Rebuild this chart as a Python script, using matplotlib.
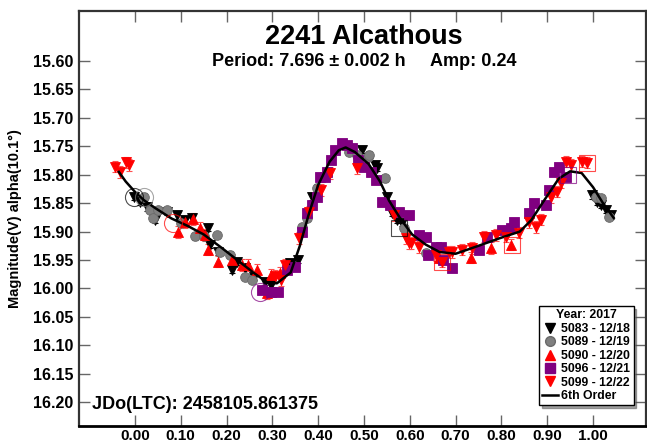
import numpy as np
import matplotlib
matplotlib.use("Agg")
import matplotlib.pyplot as plt
from matplotlib.lines import Line2D

plt.rcParams['font.family'] = ['Liberation Sans', 'DejaVu Sans']
plt.rcParams['font.weight'] = 'bold'

ph_5083 = [-0.002, 0.011, 0.026, 0.044, 0.070, 0.092, 0.109, 0.124, 0.146, 0.159, 0.163,
           0.181, 0.213, 0.222, 0.240, 0.261, 0.283, 0.298, 0.338, 0.355, 0.386, 0.495,
           0.523, 0.529, 0.551, 0.562, 0.573, 0.582, 0.998, 1.009, 1.017, 1.028, 1.039]
mag_5083 = [15.839, 15.848, 15.857, 15.879, 15.865, 15.871, 15.879, 15.876, 15.906, 15.893, 15.923,
            15.936, 15.967, 15.953, 15.964, 15.980, 15.988, 15.994, 15.955, 15.950, 15.839, 15.756,
            15.783, 15.788, 15.839, 15.867, 15.879, 15.885, 15.836, 15.848, 15.853, 15.862, 15.871]

ph_5089 = [0.020, 0.033, 0.039, 0.050, 0.070, 0.100, 0.131, 0.150, 0.179, 0.185, 0.207, 0.240,
           0.255, 0.364, 0.375, 0.397, 0.468, 0.484, 0.508, 0.512, 0.545, 0.588, 0.636, 1.006,
           1.017, 1.035]
mag_5089 = [15.839, 15.862, 15.876, 15.862, 15.862, 15.885, 15.908, 15.908, 15.906, 15.936, 15.941, 15.980,
            15.985, 15.892, 15.876, 15.823, 15.760, 15.765, 15.769, 15.765, 15.806, 15.893, 15.937, 15.839,
            15.841, 15.874]

ph_5090 = [0.094, 0.109, 0.126, 0.142, 0.153, 0.159, 0.181, 0.213, 0.233, 0.246, 0.266, 0.288,
           0.298, 0.316, 0.664, 0.734, 0.778, 0.821]
mag_5090 = [15.901, 15.883, 15.878, 15.893, 15.906, 15.932, 15.953, 15.950, 15.959, 15.959, 15.967, 16.008,
            15.976, 15.973, 15.946, 15.946, 15.929, 15.923]

ph_5096 = [0.277, 0.298, 0.312, 0.331, 0.349, 0.364, 0.375, 0.386, 0.397, 0.403, 0.414, 0.420,
           0.429, 0.436, 0.451, 0.462, 0.473, 0.486, 0.501, 0.516, 0.527, 0.540, 0.556, 0.577,
           0.599, 0.621, 0.636, 0.640, 0.658, 0.669, 0.672, 0.693, 0.752, 0.769, 0.802, 0.821,
           0.828, 0.861, 0.871, 0.898, 0.904, 0.915, 0.926, 0.941]
mag_5096 = [16.002, 16.006, 16.006, 15.967, 15.962, 15.900, 15.867, 15.853, 15.839, 15.804, 15.804, 15.795,
            15.774, 15.756, 15.744, 15.748, 15.753, 15.774, 15.786, 15.795, 15.809, 15.848, 15.853, 15.865,
            15.871, 15.906, 15.909, 15.942, 15.927, 15.927, 15.950, 15.964, 15.932, 15.909, 15.897, 15.893,
            15.883, 15.867, 15.850, 15.853, 15.827, 15.795, 15.786, 15.804]

ph_5099 = [-0.044, -0.033, -0.020, -0.013, 0.305, 0.318, 0.327, 0.359, 0.381, 0.407, 0.425, 0.484,
           0.566, 0.592, 0.599, 0.603, 0.621, 0.658, 0.671, 0.686, 0.691, 0.715, 0.736, 0.763,
           0.789, 0.810, 0.839, 0.861, 0.876, 0.887, 0.908, 0.922, 0.930, 0.941, 0.952, 0.976, 0.987]
mag_5099 = [15.786, 15.795, 15.778, 15.783, 15.978, 15.985, 15.959, 15.911, 15.865, 15.827, 15.797, 15.788,
            15.871, 15.911, 15.920, 15.920, 15.927, 15.941, 15.953, 15.936, 15.936, 15.932, 15.929, 15.909,
            15.906, 15.909, 15.902, 15.883, 15.892, 15.879, 15.839, 15.830, 15.814, 15.777, 15.783, 15.777, 15.779]

# typical error bar half-length per session
err = {5083: 0.006, 5089: 0.006, 5090: 0.010, 5096: 0.004, 5099: 0.010}

# 6th order Fourier fit
fit_ph = [-0.035, -0.02, 0.0, 0.02, 0.045, 0.08, 0.115, 0.15, 0.19, 0.225, 0.26, 0.29, 0.31,
          0.34, 0.36, 0.38, 0.40, 0.425, 0.445, 0.46, 0.48, 0.51, 0.535, 0.555, 0.58, 0.605,
          0.635, 0.665, 0.70, 0.75, 0.795, 0.84, 0.865, 0.895, 0.925, 0.95, 0.975, 1.0, 1.02, 1.045]
fit_mag = [15.795, 15.812, 15.830, 15.845, 15.859, 15.877, 15.890, 15.905, 15.929, 15.951, 15.973,
           15.990, 15.991, 15.972, 15.925, 15.868, 15.818, 15.777, 15.757, 15.752, 15.760, 15.781,
           15.812, 15.846, 15.878, 15.905, 15.923, 15.936, 15.939, 15.925, 15.912, 15.900, 15.880,
           15.843, 15.807, 15.794, 15.797, 15.822, 15.848, 15.876]

# flagged observations (circled / boxed)
circ_ph = [-0.002, 0.020, 0.083, 0.272]
circ_mag = [15.839, 15.839, 15.885, 16.006]
circ_sess = [5083, 5089, 5090, 5096]
box_ph = [0.577, 0.671, 0.824, 0.987, 0.945]
box_mag = [15.894, 15.953, 15.923, 15.779, 15.800]
box_sess = [5083, 5099, 5090, 5099, 5096]

sessions = [5083, 5089, 5090, 5096, 5099]
labels = ['5083 - 12/18', '5089 - 12/19', '5090 - 12/20', '5096 - 12/21', '5099 - 12/22']
data = {5083: (ph_5083, mag_5083), 5089: (ph_5089, mag_5089), 5090: (ph_5090, mag_5090),
        5096: (ph_5096, mag_5096), 5099: (ph_5099, mag_5099)}
style = {5083: dict(marker='v', color='black', mec='black', ecol='black', ms=7.5),
         5089: dict(marker='o', color='#808080', mec='#6a6a6a', ecol='#555555', ms=7),
         5090: dict(marker='^', color='#ff0000', mec='#ff0000', ecol='#ff5050', ms=7.5),
         5096: dict(marker='s', color='#800080', mec='#800080', ecol='#a040a0', ms=7.5),
         5099: dict(marker='v', color='#ff0000', mec='#ff0000', ecol='#ff5050', ms=7.5)}

fig = plt.figure(figsize=(6.47, 4.44), dpi=100)
ax = fig.add_axes([79/647, 18/444, 567/647, 415/444])

for s in sessions:
    x, y = data[s]
    st = style[s]
    ax.errorbar(x, y, yerr=err[s], fmt='none', ecolor=st['ecol'], elinewidth=0.8,
                capsize=2.5, capthick=0.8, zorder=2)
    ax.plot(x, y, linestyle='none', marker=st['marker'], color=st['color'],
            mec=st['mec'], mew=0.6, ms=st['ms'], zorder=3)

ax.plot(fit_ph, fit_mag, color='black', lw=1.8, zorder=4)

for x, y, s in zip(circ_ph, circ_mag, circ_sess):
    ax.plot(x, y, marker='o', ms=13, mfc='none', mec=style[s]['color'], mew=0.8, alpha=0.7, zorder=5)
for x, y, s in zip(box_ph, box_mag, box_sess):
    ax.plot(x, y, marker='s', ms=11, mfc='none', mec=style[s]['color'], mew=0.8, alpha=0.7, zorder=5)

ax.set_xlim(-0.122, 1.1155)
ax.set_ylim(16.242, 15.512)
ax.set_xticks(np.arange(0, 1.01, 0.1))
ax.set_yticks(np.arange(15.60, 16.201, 0.05))
ax.xaxis.set_major_formatter(plt.FormatStrFormatter('%.2f'))
ax.yaxis.set_major_formatter(plt.FormatStrFormatter('%.2f'))
ax.tick_params(direction='in', length=8, width=1, color='#666666', top=True, right=True,
               labelsize=11.5, pad=4)
ax.tick_params(axis='x', labelsize=11, pad=2)
for side in ['left', 'right', 'top']:
    ax.spines[side].set_linewidth(1.6)
    ax.spines[side].set_color('#333333')
ax.spines['bottom'].set_linewidth(2)
ax.spines['bottom'].set_color('black')

ax.set_ylabel('Magnitude(V) alpha(10.1°)', fontsize=10.5, fontweight='bold', labelpad=8)

fig.text(364/647, 1 - 37/444, '2241 Alcathous', ha='center', va='center',
         fontsize=19.5, fontweight='bold')
fig.text(364/647, 1 - 61/444, 'Period: 7.696 \u00b1 0.002 h     Amp: 0.24', ha='center',
         va='center', fontsize=13, fontweight='bold')
ax.text(0.023, 0.052, 'JDo(LTC): 2458105.861375', transform=ax.transAxes, ha='left',
        va='center', fontsize=13, fontweight='bold')

handles = []
for s in sessions:
    st = style[s]
    handles.append(Line2D([], [], linestyle='none', marker=st['marker'], color=st['color'],
                          mec=st['mec'], ms=7))
handles.append(Line2D([], [], color='black', lw=1.8))
leg = ax.legend(handles, labels + ['6th Order'], loc='lower right',
                bbox_to_anchor=(0.978, 0.05), title='Year: 2017', fontsize=8.8,
                title_fontproperties={'weight': 'bold', 'size': 8.8},
                handlelength=1.3, handletextpad=0.3, borderpad=0.25, labelspacing=0.12,
                frameon=True, fancybox=False, shadow=True, borderaxespad=0)
leg.get_frame().set_edgecolor('black')
leg.get_frame().set_linewidth(1)

fig.savefig('out.png', dpi=100)
